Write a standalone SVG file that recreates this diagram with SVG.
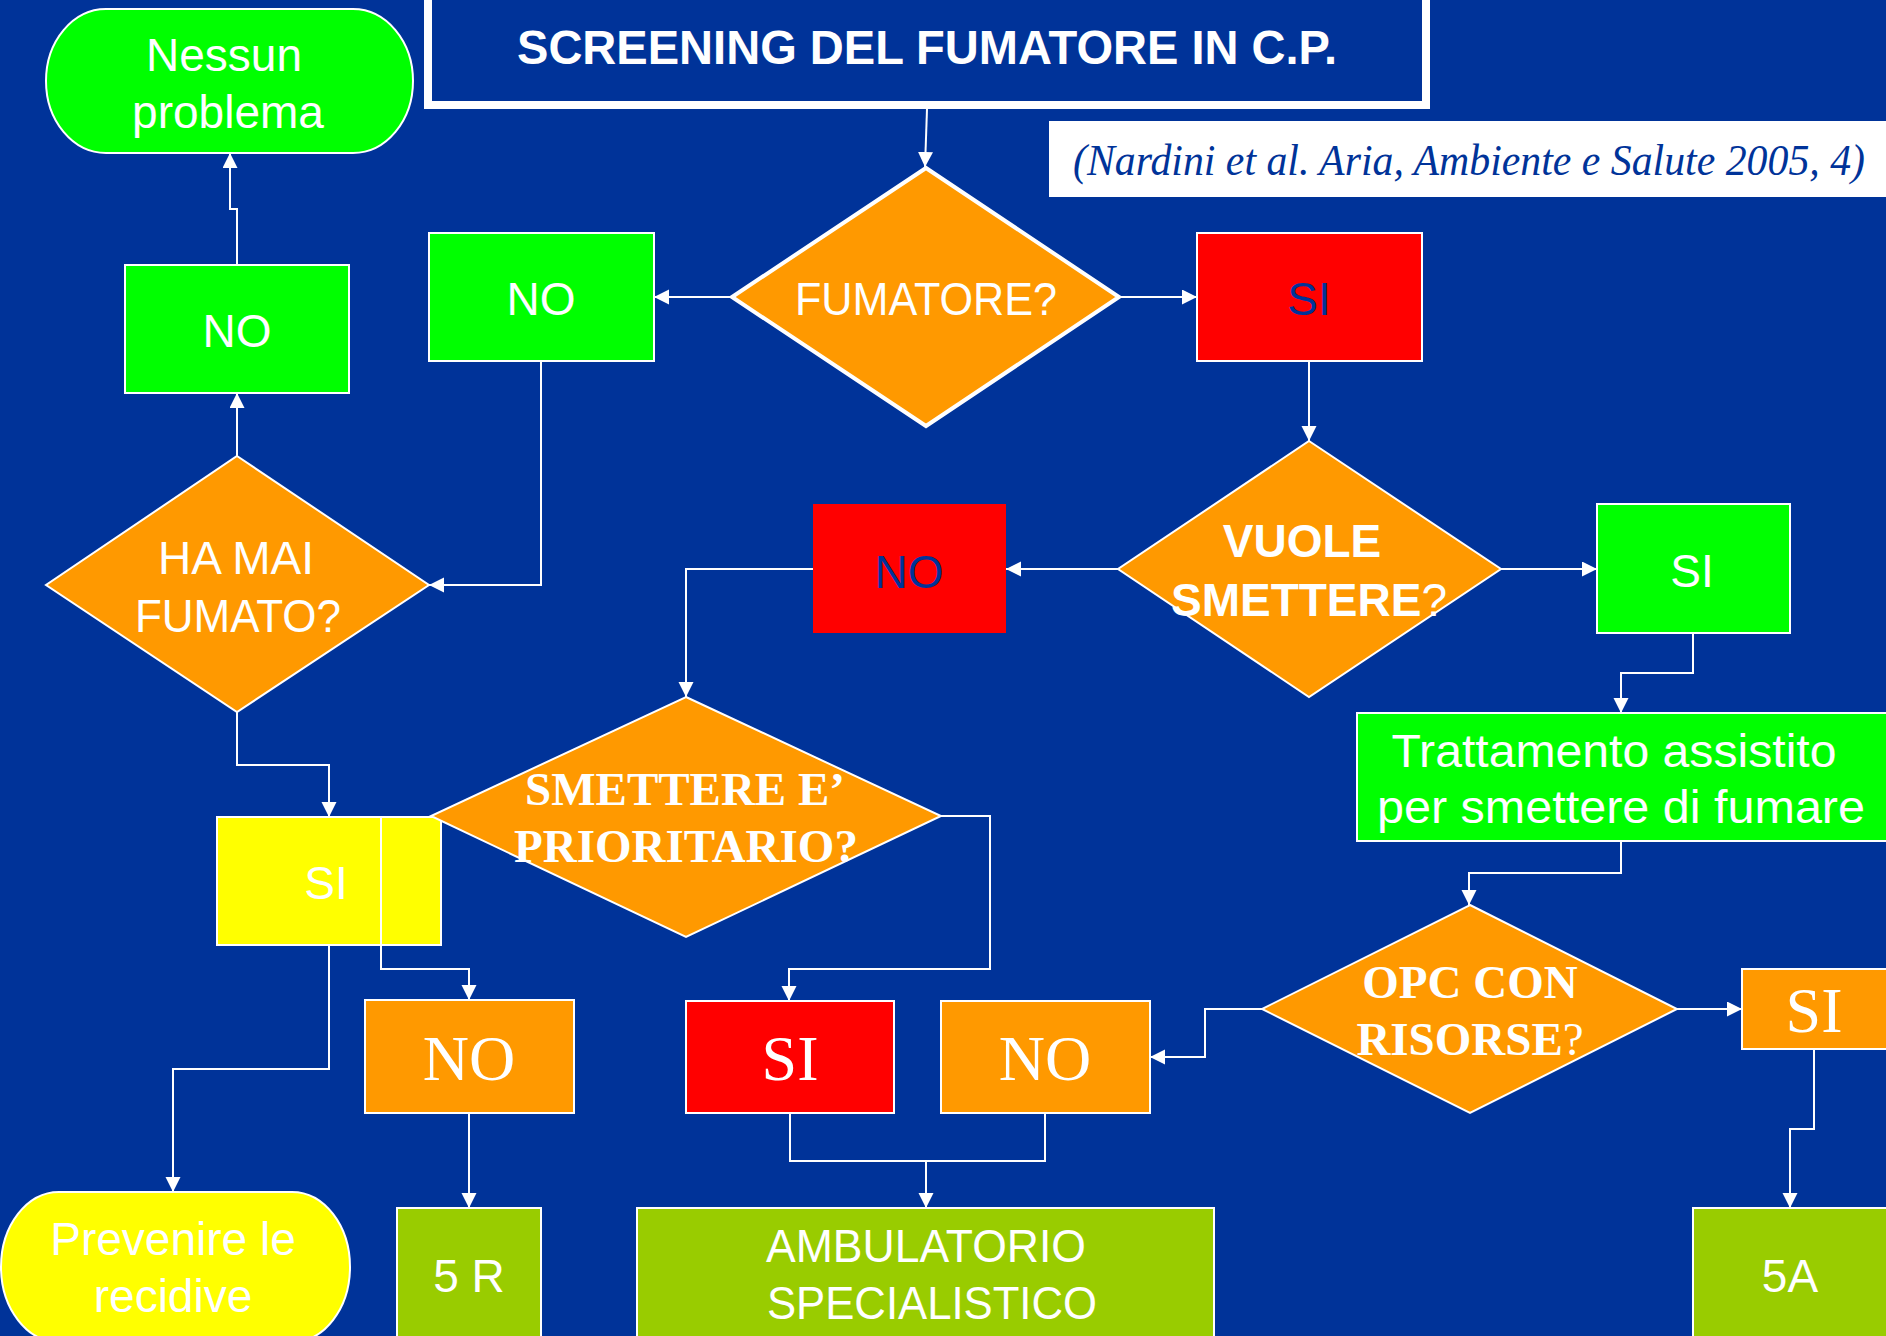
<svg xmlns="http://www.w3.org/2000/svg" width="1886" height="1336" viewBox="0 0 1886 1336">
<defs>
<marker id="arr" markerUnits="userSpaceOnUse" markerWidth="16" markerHeight="16" refX="15" refY="7.5" orient="auto">
<path d="M0,0 L15,7.5 L0,15 z" fill="#fff"/>
</marker>
<style>
.bg{fill:#003399}
.box{stroke:#fff;stroke-width:2}
.dia{fill:#FF9900;stroke:#fff;stroke-width:2}
.green{fill:#00FF00}
.red{fill:#FF0000}
.org{fill:#FF9900}
.yel{fill:#FFFF00}
.olive{fill:#99CC00}
.t{font-family:"Liberation Sans",Arial,sans-serif;font-size:46px;fill:#fff;text-anchor:middle}
.tb{font-family:"Liberation Sans",Arial,sans-serif;font-size:46px;font-weight:bold;fill:#fff;text-anchor:middle}
.s{font-family:"Liberation Serif","Times New Roman",serif;font-size:64px;fill:#fff;text-anchor:middle}
.sb{font-family:"Liberation Serif","Times New Roman",serif;font-size:47px;font-weight:bold;fill:#fff;text-anchor:middle}
.blue{fill:#003399}
.c{fill:none;stroke:#fff;stroke-width:2}
</style>
</defs>
<rect class="bg" x="0" y="0" width="1886" height="1336"/>

<g id="title">
<rect x="428" y="-10" width="998" height="115" fill="#003399" stroke="#fff" stroke-width="8"/>
<text x="927" y="64" class="tb" style="font-size:48px" textLength="820" lengthAdjust="spacingAndGlyphs">SCREENING DEL FUMATORE IN C.P.</text>
</g>

<g id="citation">
<rect x="1049" y="121" width="837" height="76" fill="#fff"/>
<text x="1073" y="175" font-family="'Liberation Serif','Times New Roman',serif" font-style="italic" font-size="44" fill="#003399" textLength="792" lengthAdjust="spacingAndGlyphs">(Nardini et al. Aria, Ambiente e Salute 2005, 4)</text>
</g>

<g id="nessun-problema">
<rect class="box green" x="46" y="9" width="367" height="144" rx="60" ry="72"/>
<text class="t" x="224" y="71">Nessun</text>
<text class="t" x="228" y="128">problema</text>
</g>

<g id="no-topleft">
<rect class="box green" x="125" y="265" width="224" height="128"/>
<text class="t" x="237" y="347">NO</text>
</g>

<g id="no-green">
<rect class="box green" x="429" y="233" width="225" height="128"/>
<text class="t" x="541" y="315">NO</text>
</g>

<g id="fumatore">
<polygon class="dia" style="stroke-width:4" points="926,168 1119,297 926,426 732,297"/>
<text class="t" x="926" y="315" textLength="262" lengthAdjust="spacingAndGlyphs">FUMATORE?</text>
</g>

<g id="si-red-top">
<rect class="box red" x="1197" y="233" width="225" height="128"/>
<text class="t blue" x="1309" y="315">SI</text>
</g>

<g id="ha-mai-fumato">
<polygon class="dia" points="237,456 429,585 237,712 46,585"/>
<text class="t" x="236" y="574">HA MAI</text>
<text class="t" x="238" y="632" textLength="206" lengthAdjust="spacingAndGlyphs">FUMATO?</text>
</g>

<g id="vuole-smettere">
<polygon class="dia" points="1309,441 1501,569 1309,697 1118,569"/>
<text class="tb" x="1302" y="557">VUOLE</text>
<text class="tb" x="1309" y="616">SMETTERE<tspan font-weight="normal">?</tspan></text>
</g>

<g id="no-red-mid">
<rect class="red" x="813" y="504" width="193" height="129"/>
<text class="t blue" x="909" y="588">NO</text>
</g>

<g id="si-green">
<rect class="box green" x="1597" y="504" width="193" height="129"/>
<text class="t" x="1692" y="587">SI</text>
</g>

<g id="trattamento">
<rect class="box green" x="1357" y="713" width="532" height="128"/>
<text class="t" x="1614" y="767" style="font-size:47px" textLength="445" lengthAdjust="spacingAndGlyphs">Trattamento assistito</text>
<text class="t" x="1621" y="823" style="font-size:47px" textLength="488" lengthAdjust="spacingAndGlyphs">per smettere di fumare</text>
</g>

<g id="si-yellow">
<rect class="box yel" x="217" y="817" width="224" height="128"/>
<text class="t" x="326" y="899">SI</text>
</g>

<g id="smettere-prioritario">
<polygon class="dia" points="686,697 941,816 686,937 431,816"/>
<text class="sb" x="685" y="805">SMETTERE E’</text>
<text class="sb" x="686" y="862">PRIORITARIO?</text>
</g>

<g id="opc-risorse">
<polygon class="dia" points="1470,905 1677,1009 1470,1113 1262,1009"/>
<text class="sb" x="1470" y="998">OPC CON</text>
<text class="sb" x="1470" y="1055">RISORSE<tspan font-weight="normal">?</tspan></text>
</g>

<g id="no-orange-left">
<rect class="box org" x="365" y="1000" width="209" height="113"/>
<text class="s" x="469" y="1080">NO</text>
</g>

<g id="si-red-bottom">
<rect class="box red" x="686" y="1001" width="208" height="112"/>
<text class="s" x="790" y="1080">SI</text>
</g>

<g id="no-orange-mid">
<rect class="box org" x="941" y="1001" width="209" height="112"/>
<text class="s" x="1045" y="1080">NO</text>
</g>

<g id="si-orange-right">
<rect class="box org" x="1742" y="969" width="150" height="80"/>
<text class="s" x="1814" y="1032">SI</text>
</g>

<g id="prevenire">
<rect class="box yel" x="1" y="1192" width="349" height="150" rx="58" ry="75"/>
<text class="t" x="173" y="1255">Prevenire le</text>
<text class="t" x="173" y="1312">recidive</text>
</g>

<g id="r5">
<rect class="box olive" x="397" y="1208" width="144" height="140"/>
<text class="t" x="469" y="1292">5 R</text>
</g>

<g id="ambulatorio">
<rect class="box olive" x="637" y="1208" width="577" height="140"/>
<text class="t" x="926" y="1262" textLength="320" lengthAdjust="spacingAndGlyphs">AMBULATORIO</text>
<text class="t" x="932" y="1319" textLength="330" lengthAdjust="spacingAndGlyphs">SPECIALISTICO</text>
</g>

<g id="a5">
<rect class="box olive" x="1693" y="1208" width="200" height="140"/>
<text class="t" x="1790" y="1292">5A</text>
</g>

<g id="connectors">
<path class="c" marker-end="url(#arr)" d="M927,109 L925,167"/>
<path class="c" marker-end="url(#arr)" d="M1119,297 H1197"/>
<path class="c" marker-end="url(#arr)" d="M732,297 H654"/>
<path class="c" marker-end="url(#arr)" d="M1309,361 V441"/>
<path class="c" marker-end="url(#arr)" d="M1118,569 H1006"/>
<path class="c" marker-end="url(#arr)" d="M1501,569 H1597"/>
<path class="c" marker-end="url(#arr)" d="M541,361 V585 H429"/>
<path class="c" marker-end="url(#arr)" d="M237,456 V393"/>
<path class="c" marker-end="url(#arr)" d="M237,265 V209 H230 V153"/>
<path class="c" marker-end="url(#arr)" d="M237,712 V765 H329 V817"/>
<path class="c" marker-end="url(#arr)" d="M813,569 H686 V697"/>
<path class="c" marker-end="url(#arr)" d="M431,817 H381 V969 H469 V1000"/>
<path class="c" marker-end="url(#arr)" d="M941,816 H990 V969 H789 V1001"/>
<path class="c" marker-end="url(#arr)" d="M329,945 V1069 H173 V1192"/>
<path class="c" marker-end="url(#arr)" d="M469,1113 V1208"/>
<path class="c" d="M790,1113 V1161 H1045 V1113"/>
<path class="c" marker-end="url(#arr)" d="M926,1161 V1208"/>
<path class="c" marker-end="url(#arr)" d="M1693,633 V673 H1621 V713"/>
<path class="c" marker-end="url(#arr)" d="M1621,841 V873 H1469 V905"/>
<path class="c" marker-end="url(#arr)" d="M1262,1009 H1205 V1057 H1150"/>
<path class="c" marker-end="url(#arr)" d="M1677,1009 H1742"/>
<path class="c" marker-end="url(#arr)" d="M1814,1049 V1129 H1790 V1208"/>
</g>
</svg>
